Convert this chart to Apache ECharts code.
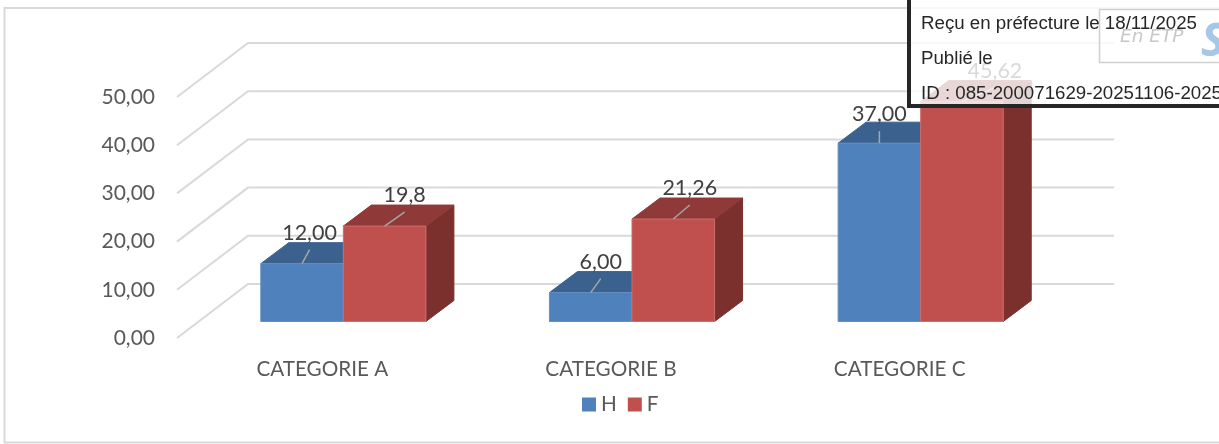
<!DOCTYPE html>
<html><head><meta charset="utf-8">
<style>html,body{margin:0;padding:0;background:#fff;overflow:hidden}#c{width:1219px;height:444px}</style>
<script src="https://cdn.jsdelivr.net/npm/echarts@6/dist/echarts.min.js"></script>
</head><body><div id="c"></div>
<script>
const categories = ['CATEGORIE A', 'CATEGORIE B', 'CATEGORIE C'];
const valuesH = [12, 6, 37];
const valuesF = [19.8, 21.26, 45.62];
const labelsH = ['12,00', '6,00', '37,00'];
const labelsF = ['19,8', '21,26', '45,62'];
const ticks = [0, 10, 20, 30, 40, 50];
const tickLabels = { 0: '0,00', 10: '10,00', 20: '20,00', 30: '30,00', 40: '40,00', 50: '50,00' };
const labelShiftH = [[7.5, -14], [10, -14], [0, -12]];
const labelShiftF = [[20, -14], [16.5, -14], [33, -14]];

const FONT = 'Lato, sans-serif';
const PANEL_FONT = '18.7px "Liberation Sans", Arial, sans-serif';
const WALL = { dx: 71, dy: -54 };
const BAR = { dx: 22, dy: -16.5, depthX: 28, depthY: -21, share: 0.286 };

function bar3d(side, labels, shifts, front, top, right, edge) {
  return function (params, api) {
    const i = api.value(0), v = api.value(1);
    const c = api.coord([i, v]), b = api.coord([i, 0]);
    const w = api.size([1, 0])[0] * BAR.share;
    const x0 = c[0] + BAR.dx + (side < 0 ? -w : 0), x1 = x0 + w;
    const yT = c[1] + BAR.dy, yB = b[1] + BAR.dy;
    const dX = BAR.depthX, dY = BAR.depthY;
    const mid = (x0 + x1) / 2, s = shifts[i];
    const poly = (pts, fill, stroke) => ({ type: 'polygon', shape: { points: pts },
      style: { fill: fill, stroke: stroke || fill, lineWidth: 1 } });
    return { type: 'group', children: [
      poly([[x1, yT], [x1 + dX, yT + dY], [x1 + dX, yB + dY], [x1, yB]], right),
      poly([[x0, yT], [x0 + dX, yT + dY], [x1 + dX, yT + dY], [x1, yT]], top),
      poly([[x0, yT], [x1, yT], [x1, yB], [x0, yB]], front, edge),
      { type: 'line', shape: { x1: mid, y1: yT, x2: mid + s[0], y2: yT + s[1] },
        style: { stroke: '#a6a6a6', lineWidth: 1.5 } },
      { type: 'text', style: { text: labels[i], x: mid + s[0], y: yT + s[1] - 17,
        align: 'center', verticalAlign: 'middle', fill: '#404040', font: '21.5px ' + FONT } }
    ] };
  };
}

const chart = echarts.init(document.getElementById('c'), null, { renderer: 'canvas' });
chart.setOption({
  animation: false,
  backgroundColor: '#fff',
  textStyle: { fontFamily: FONT },
  grid: { left: 177, top: 97, width: 866, height: 241 },
  legend: {
    left: 577, top: 389, itemWidth: 14, itemHeight: 14, itemGap: 11,
    icon: 'rect', data: ['H', 'F'],
    textStyle: { color: '#595959', fontSize: 20.7, fontFamily: FONT, padding: [0, 0, 0, 0] }
  },
  xAxis: {
    type: 'category', data: categories,
    axisLine: { show: false }, axisTick: { show: false }, splitLine: { show: false },
    axisLabel: { color: '#595959', fontSize: 20.7, fontFamily: FONT, margin: 21, padding: [0, 0, 0, 2] }
  },
  yAxis: {
    type: 'value', min: 0, max: 50, interval: 10,
    axisLine: { show: false }, axisTick: { show: false }, splitLine: { show: false },
    axisLabel: { color: '#595959', fontSize: 21, fontFamily: FONT, margin: 22,
      formatter: v => tickLabels[v] }
  },
  series: [
    { type: 'custom', name: 'wall', silent: true, z: 1, encode: { x: 0, y: 1 },
      data: ticks.map(t => [0, t]),
      renderItem: (params, api) => {
        const y = api.coord([0, api.value(1)])[1];
        const g = params.coordSys;
        return { type: 'polyline',
          shape: { points: [[g.x, y], [g.x + WALL.dx, y + WALL.dy], [g.x + g.width + WALL.dx, y + WALL.dy]] },
          style: { stroke: '#d9d9d9', lineWidth: 2, fill: null } };
      } },
    { type: 'custom', name: 'H', z: 2, encode: { x: 0, y: 1 }, itemStyle: { color: '#4f81bd' },
      data: valuesH.map((v, i) => [i, v]),
      renderItem: bar3d(-1, labelsH, labelShiftH, '#4f81bd', '#3b618f', '#2f4f75', '#6590c6') },
    { type: 'custom', name: 'F', z: 3, encode: { x: 0, y: 1 }, itemStyle: { color: '#c0504d' },
      data: valuesF.map((v, i) => [i, v]),
      renderItem: bar3d(1, labelsF, labelShiftF, '#c0504d', '#8f3a38', '#7b302e', '#cc6f6c') }
  ],
  graphic: [
    { type: 'rect', z: 0, silent: true, shape: { x: 4.5, y: 8, width: 1260, height: 434.5 },
      style: { fill: 'none', stroke: '#d9d9d9', lineWidth: 2 } },
    { type: 'rect', z: 50, silent: true, shape: { x: 909, y: -6, width: 330, height: 112 },
      style: { fill: 'rgba(255,255,255,0.8)', stroke: '#262626', lineWidth: 4 } },
    { type: 'rect', z: 51, silent: true, shape: { x: 1099.5, y: 9.5, width: 140, height: 53 },
      style: { fill: 'none', stroke: '#d0d0d0', lineWidth: 1.5 } },
    { type: 'text', z: 52, silent: true, style: { text: 'En ETP', x: 1120, y: 37, verticalAlign: 'middle',
      fill: '#c8c8c8', font: 'italic 18.5px "DejaVu Sans", sans-serif' } },
    { type: 'text', z: 52, silent: true, style: { text: 'S', x: 1201, y: 43, verticalAlign: 'middle',
      fill: '#a5c8e8', font: 'italic bold 46px "Open Sans", sans-serif' } },
    { type: 'text', z: 53, silent: true, style: { text: 'Reçu en préfecture le 18/11/2025', x: 921, y: 24, verticalAlign: 'middle',
      fill: '#262626', font: PANEL_FONT } },
    { type: 'text', z: 53, silent: true, style: { text: 'Publié le', x: 921, y: 59, verticalAlign: 'middle',
      fill: '#262626', font: PANEL_FONT } },
    { type: 'text', z: 53, silent: true, style: { text: 'ID : 085-200071629-20251106-2025', x: 921, y: 94, verticalAlign: 'middle',
      fill: '#262626', font: PANEL_FONT } }
  ]
});
</script></body></html>
